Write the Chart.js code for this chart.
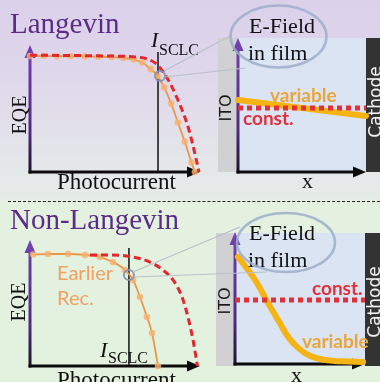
<!DOCTYPE html>
<html>
<head>
<meta charset="utf-8">
<script src="https://cdn.jsdelivr.net/npm/chart.js@4.4.1/dist/chart.umd.min.js"></script>
<style>
  html, body { margin: 0; padding: 0; background: #fff; }
  #fig { position: relative; width: 380px; height: 382px; overflow: hidden;
    background: linear-gradient(to bottom, #dbd0ea 0px, #dfd8eb 80px, #e4e6ea 160px, #e6ece8 200px, #e4f1e0 202px, #e3f1df 382px);
    font-family: "Liberation Serif", serif; }
  #fig canvas { position: absolute; z-index: 1; }
  .box { position: absolute; z-index: 0; }
  .t { position: absolute; line-height: 1; white-space: nowrap; z-index: 2; }
  .rot { position: absolute; line-height: 1; white-space: nowrap; z-index: 2; transform: translate(-50%, -50%) rotate(-90deg); }
  .title { color: #5a2c86; font-size: 29px; }
  .serif { font-size: 22px; color: #111; }
  .sans { font-family: Lato, "Open Sans", sans-serif; font-weight: 700; font-size: 19px; }
  .orange { color: #e8a63c; }
  .red { color: #e1323c; }
  .early { font-family: Lato, "Open Sans", sans-serif; font-size: 20px; color: #f0a263; }
  .ito { font-family: "DejaVu Sans", sans-serif; font-size: 16px; color: #1a1a1a; }
  .cath { font-family: "DejaVu Sans", sans-serif; font-size: 17px; color: #f4f4f4; }
  .sub { font-size: 16px; }
  #sep { position: absolute; left: 8px; top: 201px; width: 372px; border-top: 1px dashed #222; }
  svg { position: absolute; left: 0; top: 0; z-index: 3; }
</style>
</head>
<body>
<div id="fig">
  <div class="box" style="left:218px;top:38px;width:20px;height:134px;background:#d1d1d3"></div>
  <div class="box" style="left:238px;top:38px;width:128px;height:134px;background:#dae4f3"></div>
  <div class="box" style="left:366px;top:38px;width:14px;height:134px;background:#333"></div>
  <div class="box" style="left:216px;top:233px;width:19px;height:133px;background:#d1d1d3"></div>
  <div class="box" style="left:235px;top:233px;width:130px;height:133px;background:#dae4f3"></div>
  <div class="box" style="left:365px;top:233px;width:15px;height:133px;background:#333"></div>
  <div id="sep"></div>

  <div class="t title" style="left:10px;top:9px">Langevin</div>
  <div class="t title" style="left:10px;top:205px">Non-Langevin</div>

  <div class="rot serif" style="left:19px;top:115px;font-size:20px">EQE</div>
  <div class="rot serif" style="left:18px;top:302px;font-size:20px">EQE</div>
  <div class="t serif" style="left:57px;top:170px;font-size:23px">Photocurrent</div>
  <div class="t serif" style="left:57px;top:368px;font-size:23px">Photocurrent</div>
  <div class="t serif" style="left:302px;top:170px">x</div>
  <div class="t serif" style="left:291px;top:364px">x</div>

  <div class="t serif" style="left:151px;top:29px;font-style:italic">I</div>
  <div class="t serif sub" style="left:159px;top:42px">SCLC</div>
  <div class="t serif" style="left:100px;top:339px;font-style:italic">I</div>
  <div class="t serif sub" style="left:108px;top:350px">SCLC</div>

  <div class="t serif" style="left:249px;top:15px">E-Field</div>
  <div class="t serif" style="left:248px;top:42px">in film</div>
  <div class="t serif" style="left:249px;top:222px">E-Field</div>
  <div class="t serif" style="left:248px;top:249px">in film</div>

  <div class="t sans orange" style="left:270px;top:85px">variable</div>
  <div class="t sans red" style="left:243px;top:108px">const.</div>
  <div class="t sans red" style="left:312px;top:278px">const.</div>
  <div class="t sans orange" style="left:302px;top:331px">variable</div>
  <div class="t early" style="left:57px;top:262px">Earlier</div>
  <div class="t early" style="left:57px;top:287px">Rec.</div>

  <div class="rot ito" style="left:226px;top:108px">ITO</div>
  <div class="rot ito" style="left:225px;top:301px">ITO</div>
  <div class="rot cath" style="left:375px;top:102px">Cathode</div>
  <div class="rot cath" style="left:374px;top:302px">Cathode</div>

  <svg width="380" height="382">
    <g stroke="#b9c0c8" stroke-width="1.2" fill="none">
      <line x1="164" y1="71" x2="232" y2="35"/>
      <line x1="165" y1="77" x2="245" y2="68"/>
      <line x1="133" y1="272" x2="240" y2="227"/>
      <line x1="134" y1="277" x2="267" y2="272"/>
    </g>
    <g stroke="#9eaecb" stroke-width="2.5" fill="none" opacity="0.85">
      <ellipse cx="278.5" cy="36.5" rx="48" ry="31"/>
      <ellipse cx="286" cy="242.5" rx="49" ry="29.5"/>
    </g>
  </svg>
</div>
<script>
// Langevin: EQE vs photocurrent (x in % of axis, y as fraction of axis height)
const tlRedX = [0, 47, 62, 69, 75, 81, 87, 93, 97.6, 99.4];
const tlRedY = [0.92, 0.913, 0.906, 0.89, 0.843, 0.732, 0.567, 0.354, 0.11, 0];
const tlOrangeX = [0, 8, 16, 24, 32, 40, 48, 55, 61, 66, 71, 75, 79, 83, 87, 91, 95, 97];
const tlOrangeY = [0.913, 0.913, 0.912, 0.911, 0.91, 0.908, 0.905, 0.898, 0.885, 0.862, 0.81, 0.757, 0.665, 0.54, 0.39, 0.24, 0.075, 0];
const tlSclcX = 75.3;
const tlSclcTop = 0.945;
const tlMarker = { x: 76.5, y: 0.756 };

// Non-Langevin
const blOrangeX = [1.8, 10.6, 22.4, 32.4, 41.2, 48.8, 55.9, 60.6, 64.7, 68.8, 71.8, 75.3];
const blOrangeY = [0.885, 0.889, 0.889, 0.881, 0.865, 0.825, 0.762, 0.683, 0.548, 0.389, 0.262, 0];
const blRedX = [35.3, 47, 60.6, 70.6, 78.2, 84.1, 89.4, 92.9, 95.9, 98.5];
const blRedY = [0.881, 0.881, 0.865, 0.825, 0.762, 0.683, 0.548, 0.389, 0.206, 0];
const blSclcX = 58.2;
const blSclcTop = 0.937;
const blMarker = { x: 58.2, y: 0.722 };

// E-field in film vs x
const trVariableX = [0, 100];
const trVariableY = [0.537, 0.418];
const trConstX = [0, 100];
const trConstY = [0.478, 0.478];
const brVariableX = [2.3, 10, 17, 25, 34, 42, 50, 58, 68, 82, 98.5];
const brVariableY = [0.811, 0.712, 0.612, 0.47, 0.318, 0.19, 0.11, 0.06, 0.032, 0.02, 0.015];
const brConstX = [0, 100];
const brConstY = [0.485, 0.485];

const pts = (xs, ys) => xs.map((x, i) => ({ x, y: ys[i] }));

const axisArrows = {
  id: 'axisArrows',
  beforeDatasetsDraw(chart) {
    const { ctx, chartArea: a } = chart;
    const head = 13, half = 5.5;
    ctx.save();
    ctx.lineWidth = 3;
    const g = ctx.createLinearGradient(0, a.bottom, 0, a.top);
    g.addColorStop(0, '#1c1224');
    g.addColorStop(0.3, '#4c2a7c');
    g.addColorStop(1, '#7442b2');
    ctx.strokeStyle = g;
    ctx.fillStyle = g;
    ctx.beginPath(); ctx.moveTo(a.left, a.bottom + 1.5); ctx.lineTo(a.left, a.top + head - 1); ctx.stroke();
    ctx.beginPath(); ctx.moveTo(a.left, a.top); ctx.lineTo(a.left - half, a.top + head); ctx.lineTo(a.left + half, a.top + head); ctx.closePath(); ctx.fill();
    ctx.strokeStyle = '#0c0c0c';
    ctx.fillStyle = '#0c0c0c';
    ctx.beginPath(); ctx.moveTo(a.left - 1.5, a.bottom); ctx.lineTo(a.right - head + 1, a.bottom); ctx.stroke();
    ctx.beginPath(); ctx.moveTo(a.right, a.bottom); ctx.lineTo(a.right - head, a.bottom - half); ctx.lineTo(a.right - head, a.bottom + half); ctx.closePath(); ctx.fill();
    ctx.restore();
  }
};

function panel(area, datasets) {
  const pad = 16;
  const cv = document.createElement('canvas');
  const w = area.x1 - area.x0 + 2 * pad, h = area.y1 - area.y0 + 2 * pad;
  cv.width = w; cv.height = h;
  cv.style.left = (area.x0 - pad) + 'px';
  cv.style.top = (area.y0 - pad) + 'px';
  cv.style.width = w + 'px';
  cv.style.height = h + 'px';
  document.getElementById('fig').appendChild(cv);
  return new Chart(cv, {
    type: 'line',
    data: { datasets },
    options: {
      responsive: false, animation: false, devicePixelRatio: 1,
      layout: { padding: pad },
      plugins: { legend: { display: false }, tooltip: { enabled: false } },
      scales: {
        x: { type: 'linear', min: 0, max: 100, display: false },
        y: { min: 0, max: 1, display: false }
      },
      elements: { point: { radius: 0 } }
    },
    plugins: [axisArrows]
  });
}

const redDashed = (data) => ({ data, order: 0, borderColor: '#e2282e', borderWidth: 3, borderDash: [7, 4], cubicInterpolationMode: 'monotone', pointRadius: 0, clip: false });
const orangeDots = (data) => ({ data, order: 1, borderColor: '#e9984a', borderWidth: 1.8, cubicInterpolationMode: 'monotone', pointRadius: 3.3, pointBorderWidth: 0, pointBackgroundColor: 'rgba(247,176,108,0.8)', clip: false });
const sclcLine = (x, top) => ({ data: [{ x, y: 0 }, { x, y: top }], order: 2, borderColor: '#111', borderWidth: 1.5, pointRadius: 0, clip: false });
const marker = (p) => ({ data: [p], order: -1, showLine: false, pointRadius: 5, pointBorderWidth: 2, pointBorderColor: 'rgba(128,146,176,0.9)', pointBackgroundColor: 'rgba(0,0,0,0)', clip: false });
const fieldVar = (data) => ({ data, order: 1, borderColor: '#f6b414', borderWidth: 6, tension: 0.4, pointRadius: 0, borderCapStyle: 'round', borderJoinStyle: 'round', clip: false });
const fieldConst = (data) => ({ data, order: 0, borderColor: '#e2303a', borderWidth: 5, borderDash: [5, 4], pointRadius: 0, clip: false });

panel({ x0: 30, x1: 200, y0: 45, y1: 172 }, [
  redDashed(pts(tlRedX, tlRedY)),
  orangeDots(pts(tlOrangeX, tlOrangeY)),
  sclcLine(tlSclcX, tlSclcTop),
  marker(tlMarker)
]);
panel({ x0: 30, x1: 200, y0: 240, y1: 366 }, [
  redDashed(pts(blRedX, blRedY)),
  orangeDots(pts(blOrangeX, blOrangeY)),
  sclcLine(blSclcX, blSclcTop),
  marker(blMarker)
]);
panel({ x0: 238, x1: 366, y0: 38, y1: 172 }, [
  fieldConst(pts(trConstX, trConstY)),
  fieldVar(pts(trVariableX, trVariableY))
]);
panel({ x0: 235, x1: 365, y0: 232, y1: 364 }, [
  fieldConst(pts(brConstX, brConstY)),
  fieldVar(pts(brVariableX, brVariableY))
]);
</script>
</body>
</html>
